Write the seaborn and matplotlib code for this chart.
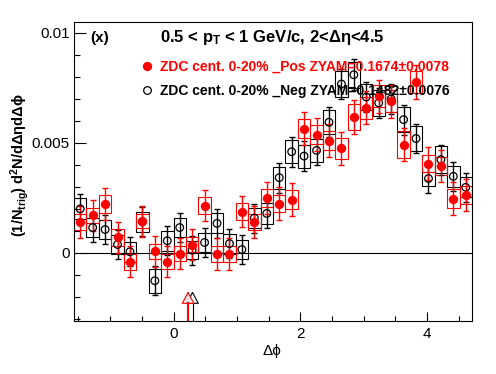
import numpy as np
import pandas as pd
import matplotlib
matplotlib.use('Agg')
import matplotlib.pyplot as plt
import seaborn as sns
from matplotlib.lines import Line2D
from matplotlib.ticker import MultipleLocator, FuncFormatter

# ========== Data ==========
# 32 bins in delta phi from -pi/2 to 3pi/2
n_bins = 32
dphi_range = (-np.pi / 2, 3 * np.pi / 2)

pos_y = [0.00141, 0.00170, 0.00223, 0.00071, -0.00041, 0.00144, 0.00007, -0.00041,
         -0.00003, 0.00037, 0.00215, -0.00005, -0.00005, 0.00188, 0.00141, 0.00250,
         0.00224, 0.00242, 0.00565, 0.00538, 0.00511, 0.00475, 0.00618, 0.00660,
         0.00712, 0.00689, 0.00492, 0.00777, 0.00405, 0.00395, 0.00247, 0.00264]
neg_y = [0.00200, 0.00115, 0.00106, 0.00038, 0.00005, 0.00141, -0.00127, 0.00055,
         0.00115, 0.00012, 0.00047, 0.00134, 0.00042, 0.00015, 0.00158, 0.00179,
         0.00342, 0.00460, 0.00440, 0.00466, 0.00594, 0.00768, 0.00810, 0.00709,
         0.00682, 0.00700, 0.00606, 0.00520, 0.00338, 0.00424, 0.00348, 0.00298]

pos_stat = [0.00072, 0.00072, 0.00074, 0.00070, 0.00070, 0.00070, 0.00070, 0.00070,
            0.00070, 0.00070, 0.00072, 0.00072, 0.00072, 0.00072, 0.00072, 0.00074,
            0.00074, 0.00074, 0.00076, 0.00075, 0.00075, 0.00076, 0.00076, 0.00076,
            0.00076, 0.00076, 0.00075, 0.00076, 0.00075, 0.00074, 0.00074, 0.00072]
neg_stat = [0.00066, 0.00066, 0.00066, 0.00066, 0.00066, 0.00066, 0.00066, 0.00066,
            0.00066, 0.00066, 0.00066, 0.00066, 0.00066, 0.00066, 0.00066, 0.00068,
            0.00068, 0.00068, 0.00068, 0.00068, 0.00068, 0.00070, 0.00070, 0.00070,
            0.00070, 0.00070, 0.00068, 0.00068, 0.00068, 0.00068, 0.00066, 0.00066]

pos_sys = [0.00035, 0.00036, 0.00040, 0.00038, 0.00036, 0.00033, 0.00035, 0.00034,
           0.00035, 0.00035, 0.00040, 0.00036, 0.00036, 0.00038, 0.00036, 0.00040,
           0.00040, 0.00042, 0.00044, 0.00045, 0.00045, 0.00046, 0.00057, 0.00050,
           0.00050, 0.00050, 0.00060, 0.00049, 0.00038, 0.00040, 0.00045, 0.00042]
neg_sys = [0.00048, 0.00042, 0.00045, 0.00045, 0.00045, 0.00045, 0.00055, 0.00045,
           0.00045, 0.00042, 0.00045, 0.00045, 0.00045, 0.00045, 0.00045, 0.00048,
           0.00050, 0.00052, 0.00052, 0.00052, 0.00055, 0.00058, 0.00060, 0.00058,
           0.00058, 0.00058, 0.00057, 0.00055, 0.00032, 0.00060, 0.00048, 0.00045]

# ZYAM minimum positions (Pos, Neg) and arrow tip height
zyam_dphi = [0.23, 0.30]
zyam_tip = -0.00175

labels = ["ZDC cent. 0-20% _Pos ZYAM=0.1674\u00b10.0078",
          "ZDC cent. 0-20% _Neg ZYAM=0.1482\u00b10.0076"]

edges = np.linspace(dphi_range[0], dphi_range[1], n_bins + 1)
centers = 0.5 * (edges[:-1] + edges[1:])
bin_w = edges[1] - edges[0]

df = pd.DataFrame({'dphi': centers, 'pos': pos_y, 'neg': neg_y,
                   'pos_stat': pos_stat, 'neg_stat': neg_stat,
                   'pos_sys': pos_sys, 'neg_sys': neg_sys})

# ========== Plot ==========
plt.rcParams['font.family'] = ['Liberation Sans', 'DejaVu Sans']
plt.rcParams['axes.linewidth'] = 0.8

fig = plt.figure(figsize=(4.96, 3.74), dpi=100)
ax = fig.add_axes([74 / 496, 1 - 321 / 374, 398 / 496, 299 / 374])

ylo, yhi = -0.0031, 0.0105
ax.set_xlim(*dphi_range)
ax.set_ylim(ylo, yhi)
ax.axhline(0, color='black', lw=0.8, zorder=1)

for key, col in [('neg', 'black'), ('pos', 'red')]:
    y = df[key].values
    s = df[key + '_sys'].values
    ax.bar(df['dphi'], 2 * s, bottom=y - s, width=bin_w, fill=False,
           edgecolor=col, linewidth=0.8, zorder=2)
    ax.errorbar(df['dphi'], y, yerr=df[key + '_stat'], fmt='none', ecolor=col,
                elinewidth=1, capsize=2.2, capthick=1, zorder=3)

sns.scatterplot(data=df, x='dphi', y='neg', ax=ax, marker='o', s=30,
                facecolor='none', edgecolor='black', linewidth=0.9, zorder=4)
sns.scatterplot(data=df, x='dphi', y='pos', ax=ax, marker='o', s=45,
                color='red', edgecolor='red', linewidth=0, zorder=5)

# ZYAM arrows: stem + open triangular head
head_len = 0.0005
for xpos, ec, fc, stem_lw in [(zyam_dphi[1], 'black', 'white', 0.8),
                              (zyam_dphi[0], 'red', '#e4e4e4', 1.5)]:
    ax.annotate('', xy=(xpos, zyam_tip), xytext=(xpos, zyam_tip - head_len),
                arrowprops=dict(arrowstyle='-|>,head_length=0.78,head_width=0.42',
                                facecolor=fc, edgecolor=ec, lw=0.8,
                                shrinkA=0, shrinkB=0, mutation_scale=10),
                zorder=6)
    ax.vlines(xpos, ylo, zyam_tip - head_len, color=ec, lw=stem_lw, zorder=6)

# Axes styling (ROOT-like)
ax.xaxis.set_major_locator(MultipleLocator(2))
ax.xaxis.set_minor_locator(MultipleLocator(0.5))
ax.yaxis.set_major_locator(MultipleLocator(0.005))
ax.yaxis.set_minor_locator(MultipleLocator(0.001))
fmt = FuncFormatter(lambda v, p: f'{v:g}')
ax.xaxis.set_major_formatter(fmt)
ax.yaxis.set_major_formatter(fmt)
ax.tick_params(which='both', direction='in', top=False, right=False,
               labelsize=11, color='black', width=0.8)
ax.tick_params(axis='y', which='major', length=8.6, pad=3)
ax.tick_params(axis='y', which='minor', length=4.5)
ax.tick_params(axis='x', which='major', length=6.3, pad=4)
ax.tick_params(axis='x', which='minor', length=3.6)
for sp in ax.spines.values():
    sp.set_color('black')

ax.set_xlabel('\u0394\u03d5', fontsize=11, va='center')
ax.xaxis.set_label_coords((272 - 74) / 398, -(351.5 - 321) / 299)
ax.set_ylabel('(1/$\\mathregular{N_{trig}}$) $\\mathregular{d^{2}}$N/d\u0394\u03b7d\u0394\u03d5',
              fontsize=10.5, fontweight='bold', va='center')
ax.yaxis.set_label_coords((20 - 74) / 398, (321 - 165) / 299)

# Legend
handles = [Line2D([], [], ls='none', marker='o', markersize=6.7, color='red', mec='red', mew=0),
           Line2D([], [], ls='none', marker='o', markersize=5.5, mfc='none', mec='black', mew=0.9)]
leg = ax.legend(handles, labels, loc='upper left', bbox_to_anchor=(140 / 496, 1 - 60 / 374),
                bbox_transform=fig.transFigure, frameon=False, borderpad=0, borderaxespad=0,
                handlelength=1.0, handletextpad=0.45, labelspacing=0.7,
                prop=dict(weight='bold', size=10))
for txt, col in zip(leg.get_texts(), ['red', 'black']):
    txt.set_color(col)

# Header texts
fig.text(90.7 / 496, 1 - 41.7 / 374, '(x)', fontsize=11, fontweight='bold', va='baseline')
fig.text(160 / 496, 1 - 41.7 / 374,
         '0.5 < $\\mathregular{p_{T}}$ < 1 GeV/c, 2<\u0394\u03b7<4.5',
         fontsize=12, fontweight='bold', va='baseline')

fig.savefig('out.png', dpi=100)
